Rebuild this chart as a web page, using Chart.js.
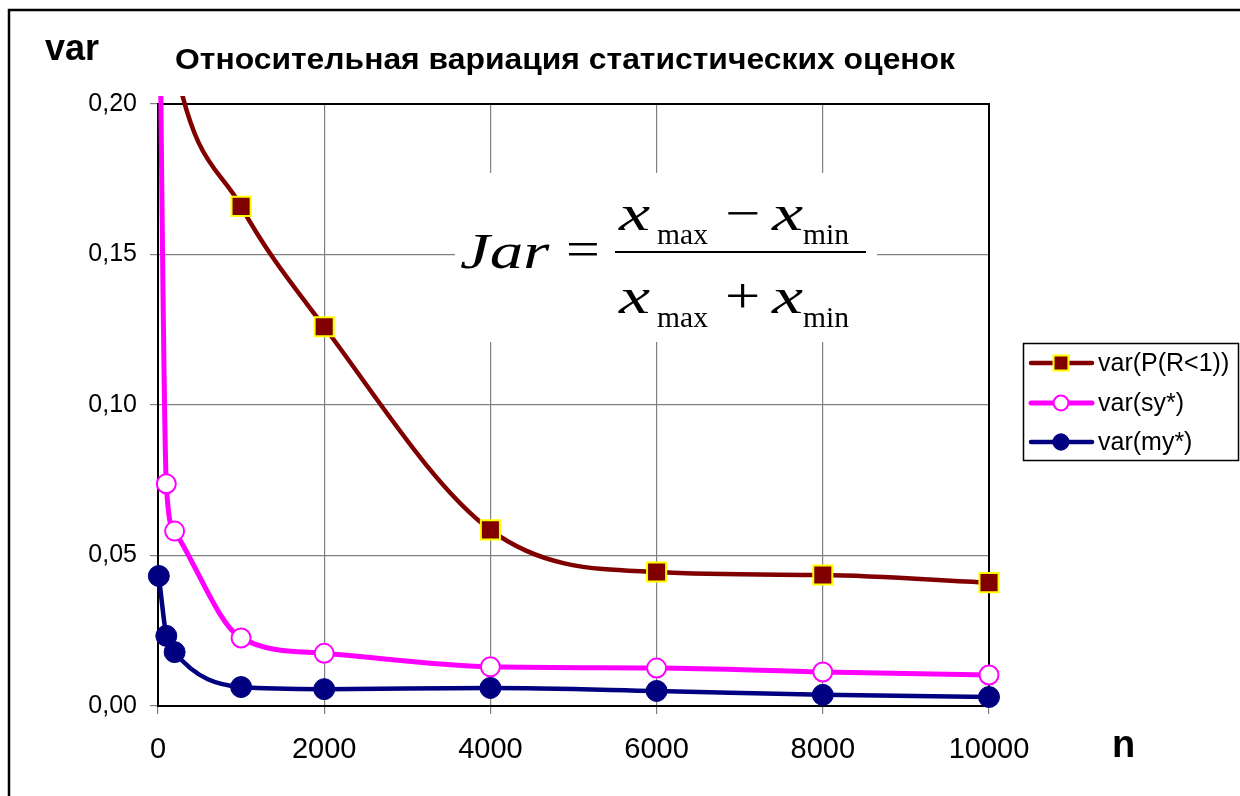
<!doctype html>
<html>
<head>
<meta charset="utf-8">
<title>Относительная вариация статистических оценок</title>
<style>
body { margin: 0; background: #fff; }
#wrap { width: 1240px; height: 796px; }
</style>
</head>
<body>
<div id="wrap"><canvas id="myChart" width="1240" height="796"></canvas></div>

<script src="https://cdn.jsdelivr.net/npm/chart.js@4.4.1/dist/chart.umd.min.js"></script>
<script>

// sample sizes and the three variation curves
var nValues = [10, 100, 200, 1000, 2000, 4000, 6000, 8000, 10000];
var varP  = [0.26, 0.235, 0.214, 0.166, 0.126, 0.0585, 0.0445, 0.0435, 0.041];
var varSy = [0.26, 0.0738, 0.0581, 0.0226, 0.0175, 0.0130, 0.0126, 0.0113, 0.0103];
var varMy = [0.0432, 0.0233, 0.0179, 0.0063, 0.0056, 0.0060, 0.0050, 0.0037, 0.0030];
var seriesNames = ['var(P(R<1))', 'var(sy*)', 'var(my*)'];
var xTicks = [0, 2000, 4000, 6000, 8000, 10000];
var yTicks = [0, 0.05, 0.10, 0.15, 0.20];

var titleText = 'Относительная вариация статистических оценок';
var yName = 'var';
var xName = 'n';

var sans = '"Liberation Sans", Arial, sans-serif';
var serif = '"Liberation Serif", "Times New Roman", serif';

function pts(ys) {
  return nValues.map(function (n, i) { return { x: n, y: ys[i] }; });
}

function piece(ctx, text, font, x, y, sx) {
  ctx.save();
  ctx.translate(x, y);
  ctx.scale(sx, 1);
  ctx.font = font;
  ctx.fillText(text, 0, 0);
  ctx.restore();
}

var decor = {
  id: 'decor',
  beforeDatasetsDraw: function (chart) {
    var ctx = chart.ctx, a = chart.chartArea;
    ctx.save();
    // formula on a white patch over the grid
    ctx.fillStyle = '#fff';
    ctx.fillRect(455, 173, 422, 169);
    ctx.fillStyle = '#000';
    ctx.textAlign = 'left';
    ctx.textBaseline = 'alphabetic';
    var big = 'italic 50px ' + serif, up = '50px ' + serif, sub = '29px ' + serif;
    piece(ctx, 'Jar', big, 460, 268, 1.34);
    piece(ctx, '=', up, 566, 266, 1.2);
    piece(ctx, 'x', big, 619, 230, 1.4);
    piece(ctx, 'max', sub, 657, 244, 1.02);
    piece(ctx, '\u2212', up, 725, 230, 1.25);
    piece(ctx, 'x', big, 772, 230, 1.4);
    piece(ctx, 'min', sub, 803, 244, 1.02);
    piece(ctx, 'x', big, 619, 313, 1.4);
    piece(ctx, 'max', sub, 657, 327, 1.02);
    piece(ctx, '+', up, 725, 313, 1.25);
    piece(ctx, 'x', big, 772, 313, 1.4);
    piece(ctx, 'min', sub, 803, 327, 1.02);
    ctx.fillRect(615, 251, 251, 2);
    // plot box
    ctx.strokeStyle = '#000';
    ctx.lineWidth = 2;
    ctx.strokeRect(a.left, a.top, a.right - a.left, a.bottom - a.top);
    ctx.restore();
  },
  afterDraw: function (chart) {
    var ctx = chart.ctx;
    ctx.save();
    // outer frame (top and left edges only are in view)
    ctx.strokeStyle = '#000';
    ctx.lineWidth = 2.5;
    ctx.beginPath();
    ctx.moveTo(9, 796);
    ctx.lineTo(9, 10);
    ctx.lineTo(1240, 10);
    ctx.stroke();

    ctx.fillStyle = '#000';
    ctx.textBaseline = 'alphabetic';
    ctx.textAlign = 'left';
    ctx.font = 'bold 29px ' + sans;
    var tw = ctx.measureText(titleText).width;
    piece(ctx, titleText, ctx.font, 175, 69, 780 / tw);
    ctx.font = 'bold 36px ' + sans;
    ctx.fillText(yName, 45, 60);
    ctx.font = 'bold 38px ' + sans;
    ctx.fillText(xName, 1112, 757);

    // legend
    ctx.lineWidth = 1.5;
    ctx.strokeStyle = '#000';
    ctx.strokeRect(1023.5, 343.5, 215, 117);
    var rows = [363, 403, 442];
    chart.data.datasets.forEach(function (ds, i) {
      var y = rows[i];
      ctx.strokeStyle = ds.borderColor;
      ctx.lineWidth = ds.borderWidth;
      ctx.lineCap = 'round';
      ctx.beginPath();
      ctx.moveTo(1031, y);
      ctx.lineTo(1092, y);
      ctx.stroke();
      ctx.fillStyle = ds.pointBackgroundColor;
      ctx.strokeStyle = ds.pointBorderColor;
      ctx.lineWidth = ds.pointBorderWidth;
      Chart.helpers.drawPoint(ctx, {
        pointStyle: ds.pointStyle, radius: ds.pointRadius * 0.78,
        rotation: 0, borderWidth: ds.pointBorderWidth
      }, 1061, y);
      ctx.fillStyle = '#000';
      ctx.font = '25px ' + sans;
      ctx.textBaseline = 'middle';
      ctx.fillText(ds.label, 1098, y + 1);
    });
    ctx.restore();
  }
};

var clipBox = { left: 14, top: 8, right: 14, bottom: 14 };

var ctx = document.getElementById('myChart').getContext('2d');
var myChart = new Chart(ctx, {
  type: 'line',
  data: {
    datasets: [{
      label: seriesNames[0],
      data: pts(varP),
      borderColor: '#800000',
      backgroundColor: '#800000',
      borderWidth: 4.5,
      pointStyle: 'rect',
      pointRadius: 13.5,
      pointBackgroundColor: '#800000',
      pointBorderColor: '#ffff00',
      pointBorderWidth: 2,
      cubicInterpolationMode: 'monotone',
      capBezierPoints: false,
      clip: clipBox
    }, {
      label: seriesNames[1],
      data: pts(varSy),
      borderColor: '#ff00ff',
      backgroundColor: '#ff00ff',
      borderWidth: 5,
      pointStyle: 'circle',
      pointRadius: 9.5,
      pointBackgroundColor: '#ffffff',
      pointBorderColor: '#ff00ff',
      pointBorderWidth: 2,
      cubicInterpolationMode: 'monotone',
      capBezierPoints: false,
      clip: clipBox
    }, {
      label: seriesNames[2],
      data: pts(varMy),
      borderColor: '#000080',
      backgroundColor: '#000080',
      borderWidth: 4.5,
      pointStyle: 'circle',
      pointRadius: 10.5,
      pointBackgroundColor: '#000080',
      pointBorderColor: '#000080',
      pointBorderWidth: 1,
      cubicInterpolationMode: 'monotone',
      capBezierPoints: false,
      clip: clipBox
    }]
  },
  options: {
    responsive: false,
    animation: false,
    events: [],
    layout: { padding: { left: 0, top: 104, right: 251, bottom: 0 } },
    plugins: {
      legend: { display: false },
      title: { display: false },
      tooltip: { enabled: false }
    },
    scales: {
      x: {
        type: 'linear',
        min: 0,
        max: 10000,
        afterBuildTicks: function (s) { s.ticks = xTicks.map(function (v) { return { value: v }; }); },
        afterFit: function (s) { s.height = 90; },
        grid: { color: '#808080', lineWidth: 1.2, tickLength: 8 },
        border: { color: '#000', width: 2 },
        ticks: {
          color: '#000',
          padding: 19,
          maxRotation: 0,
          font: { family: sans, size: 29 },
          callback: function (v) { return String(v); }
        }
      },
      y: {
        type: 'linear',
        min: 0,
        max: 0.2,
        afterBuildTicks: function (s) { s.ticks = yTicks.map(function (v) { return { value: v }; }); },
        afterFit: function (s) { s.width = 158; },
        grid: { color: '#808080', lineWidth: 1.2, tickLength: 8 },
        border: { color: '#000', width: 2 },
        ticks: {
          color: '#000',
          padding: 13,
          font: { family: sans, size: 25, lineHeight: 1.05 },
          callback: function (v) { return v.toFixed(2).replace('.', ','); }
        }
      }
    }
  },
  plugins: [decor]
});

</script>
</body>
</html>
